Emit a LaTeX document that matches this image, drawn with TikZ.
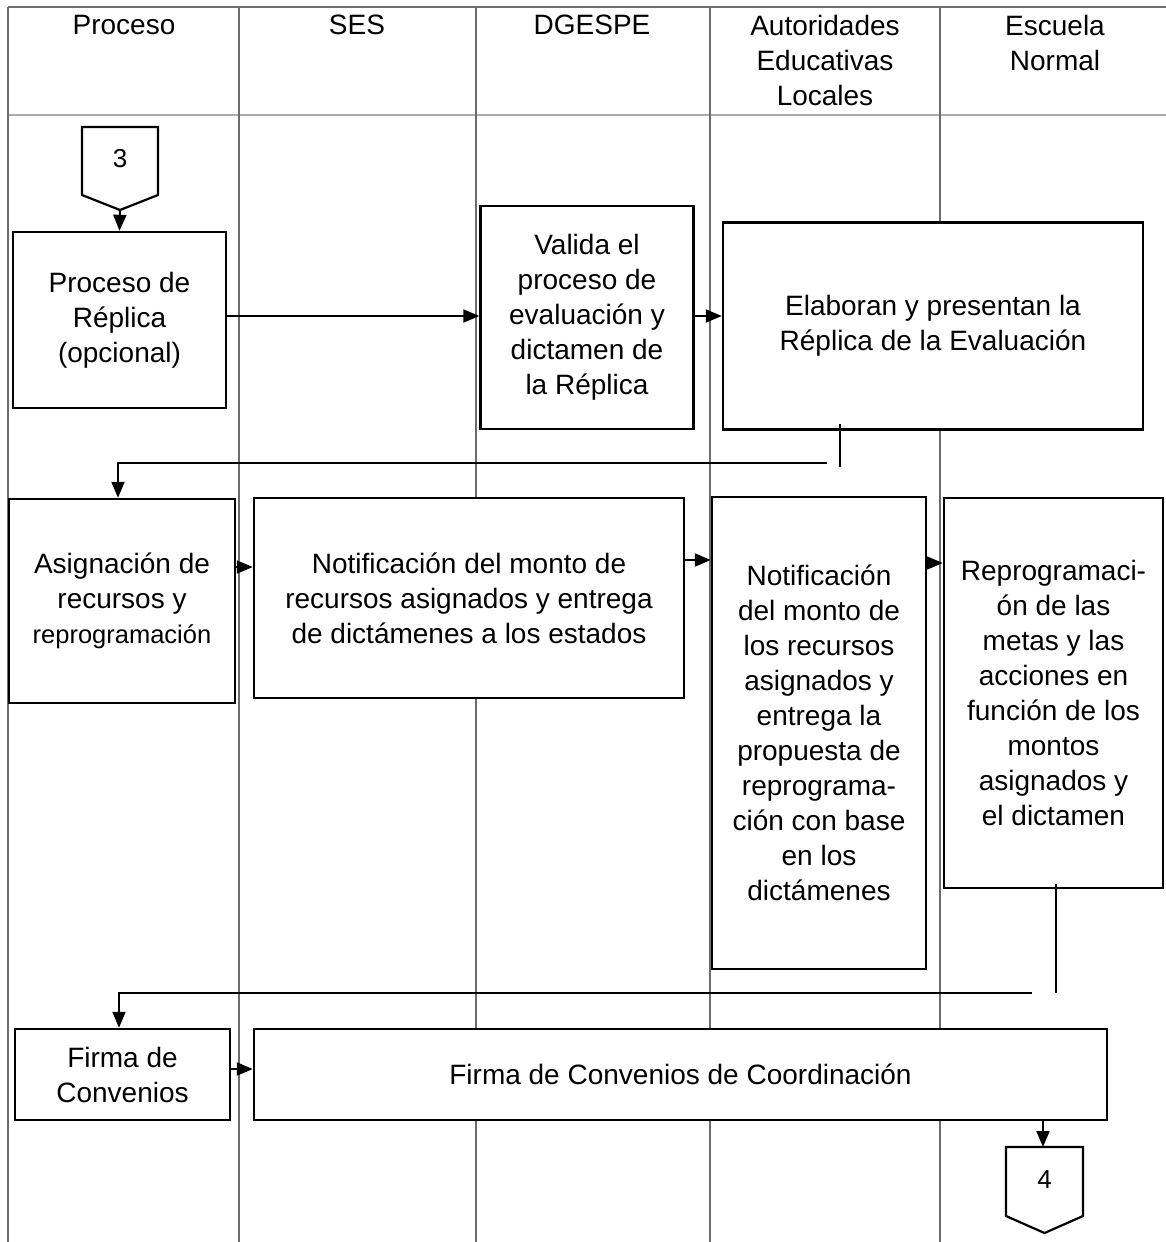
\documentclass[tikz,border=0pt]{standalone}
\usepackage{fontspec}
\setmainfont{Liberation Sans}
\usetikzlibrary{arrows.meta}
\begin{document}
\begin{tikzpicture}[x=1pt,y=-1pt,
  lane/.style={draw=gray!85!black,line width=1.4pt},
  hdr/.style={align=center,font=\fontsize{28}{35}\selectfont,inner sep=0pt,anchor=north},
  box/.style={draw=black,line width=2.4pt,fill=white,align=center,
    font=\fontsize{28}{35}\selectfont,inner sep=0pt},
  arr/.style={draw=black,line width=2pt,-{Triangle[length=16pt,width=13pt]}},
  ln/.style={draw=black,line width=2pt},
  conn/.style={draw=black,line width=2.2pt,fill=white,line join=miter}]
\useasboundingbox (0,0) rectangle (1166,1242);
% swimlane grid
\draw[lane] (8,7) -- (1166,7);
\draw[lane,draw=gray!65,line width=2.6pt] (8,115) -- (1166,115);
\draw[lane] (8,7) -- (8,1242);
\draw[lane] (239,7) -- (239,1242);
\draw[lane] (476,7) -- (476,1242);
\draw[lane] (710,7) -- (710,1242);
\draw[lane] (940,7) -- (940,1242);
% headers
\node[hdr] (h1) at (124,15) {Proceso};
\node[hdr] (h2) at (357,15) {SES};
\node[hdr] (h3) at (592,15) {DGESPE};
\node[hdr] (h4) at (825,15) {Autoridades\\Educativas\\Locales};
\node[hdr] (h5) at (1055,15) {Escuela\\Normal};
% off-page connector 3
\draw[conn] (82,127) -- (158,127) -- (158,195) -- (120,210) -- (82,195) -- cycle;
\node[font=\fontsize{26}{30}\selectfont,inner sep=0pt] (n3) at (120,159) {3};
\coordinate (c3tip) at (120,210);
% boxes
\node[box,minimum width=213pt,minimum height=176pt] (A) at (119.5,320) {Proceso de\\Réplica\\(opcional)};
\node[box,minimum width=213pt,minimum height=223pt] (B) at (587,317.5) {Valida el\\proceso de\\evaluación y\\dictamen de\\la Réplica};
\node[box,minimum width=420pt,minimum height=207pt] (C) at (933,326) {Elaboran y presentan la\\Réplica de la Evaluación};
\node[box,minimum width=226pt,minimum height=204pt] (D) at (122,601) {Asignación de\\recursos y\\{\fontsize{25.5}{35}\selectfont reprogramación}};
\node[box,minimum width=430pt,minimum height=200pt] (E) at (469,598) {Notificación del monto de\\recursos asignados y entrega\\de dictámenes a los estados};
\node[box,minimum width=214pt,minimum height=472pt] (F) at (819,733) {Notificación\\del monto de\\los recursos\\asignados y\\entrega la\\propuesta de\\reprograma-\\ción con base\\en los\\dictámenes};
\node[box,minimum width=219pt,minimum height=390pt] (G) at (1053.5,693) {Reprogramaci-\\ón de las\\metas y las\\acciones en\\función de los\\montos\\asignados y\\el dictamen};
\node[box,minimum width=215pt,minimum height=91pt] (H) at (122.5,1074.5) {Firma de\\Convenios};
\node[box,minimum width=853pt,minimum height=91pt] (I) at (680.5,1074.5) {Firma de Convenios de Coordinación};
% off-page connector 4
\draw[conn] (1006,1147) -- (1083,1147) -- (1083,1216) -- (1044.5,1233) -- (1006,1216) -- cycle;
\node[font=\fontsize{26}{30}\selectfont,inner sep=0pt] (n4) at (1044.5,1180) {4};
\coordinate (c4top) at (1043,1147);
% helper coordinates
\coordinate (yAB) at (0,316);
\coordinate (yDE) at (0,567);
\coordinate (yEF) at (0,560);
\coordinate (yFG) at (0,563);
\coordinate (yHI) at (0,1069);
\coordinate (cdA) at (840,424);
\coordinate (cdB) at (840,467);
\coordinate (cdC) at (827,463);
\coordinate (cdD) at (118,463);
\coordinate (ghA) at (1056,884);
\coordinate (ghB) at (1056,993);
\coordinate (ghC) at (1032,993);
\coordinate (ghD) at (119,993);
% connectors
\draw[arr] (c3tip) -- (A.north);
\draw[arr] (A.east |- yAB) -- (B.west |- yAB);
\draw[arr] (B.east |- yAB) -- (C.west |- yAB);
\draw[ln] (cdA) -- (cdB);
\draw[arr] (cdC) -- (cdD) -- (cdD |- D.north);
\draw[arr] (D.east |- yDE) -- (E.west |- yDE);
\draw[arr] (E.east |- yEF) -- (F.west |- yEF);
\draw[arr] (F.east |- yFG) -- (G.west |- yFG);
\draw[ln] (ghA) -- (ghB);
\draw[arr] (ghC) -- (ghD) -- (ghD |- H.north);
\draw[arr] (H.east |- yHI) -- (I.west |- yHI);
\draw[arr] (I.south -| c4top) -- (c4top);
\end{tikzpicture}
\end{document}
